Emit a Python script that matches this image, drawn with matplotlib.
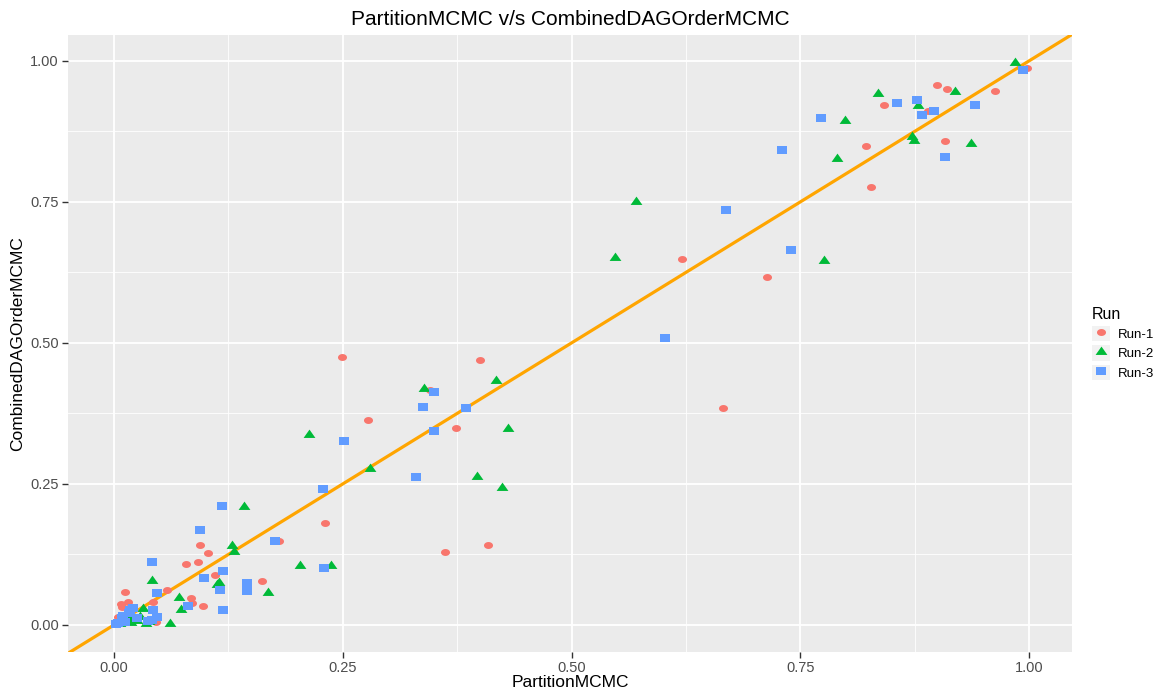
import numpy as np
import matplotlib
matplotlib.use("Agg")
import matplotlib.pyplot as plt
from matplotlib.path import Path
from matplotlib.patches import Patch
from matplotlib.lines import Line2D
from matplotlib.markers import MarkerStyle
from matplotlib.ticker import MultipleLocator

plt.rcParams['font.family'] = ['Liberation Sans', 'DejaVu Sans']

# Run-1 values
run1_x = [0.004, 0.008, 0.009, 0.012, 0.015, 0.020, 0.043, 0.046, 0.058, 0.079,
          0.084, 0.085, 0.092, 0.094, 0.097, 0.103, 0.110, 0.162, 0.180, 0.231,
          0.249, 0.278, 0.345, 0.374, 0.362, 0.400, 0.409, 0.621, 0.666, 0.714,
          0.822, 0.827, 0.841, 0.890, 0.900, 0.908, 0.910, 0.963, 0.998]
run1_y = [0.014, 0.037, 0.032, 0.059, 0.041, 0.030, 0.041, 0.005, 0.062, 0.108,
          0.048, 0.039, 0.112, 0.142, 0.034, 0.128, 0.089, 0.078, 0.149, 0.181,
          0.475, 0.363, 0.417, 0.349, 0.129, 0.470, 0.142, 0.649, 0.385, 0.617,
          0.849, 0.777, 0.922, 0.911, 0.957, 0.858, 0.950, 0.947, 0.988]

# Run-2
run2_x = [0.985, 0.835, 0.919, 0.879, 0.799, 0.872, 0.874, 0.937, 0.790, 0.571,
          0.548, 0.776, 0.339, 0.418, 0.431, 0.213, 0.280, 0.397, 0.424, 0.142,
          0.129, 0.131, 0.203, 0.237, 0.042, 0.112, 0.115, 0.168, 0.071, 0.073,
          0.061, 0.035, 0.038, 0.032, 0.017, 0.019, 0.025, 0.028, 0.007, 0.014]
run2_y = [0.998, 0.943, 0.947, 0.922, 0.895, 0.867, 0.860, 0.855, 0.828, 0.752,
          0.652, 0.647, 0.420, 0.434, 0.349, 0.339, 0.278, 0.264, 0.245, 0.211,
          0.142, 0.131, 0.106, 0.106, 0.080, 0.073, 0.076, 0.059, 0.050, 0.028,
          0.004, 0.004, 0.007, 0.030, 0.012, 0.005, 0.009, 0.016, 0.004, 0.011]

# Run-3
run3_x = [0.993, 0.856, 0.878, 0.896, 0.883, 0.941, 0.908, 0.730, 0.773, 0.669,
          0.740, 0.602, 0.350, 0.338, 0.385, 0.350, 0.251, 0.330, 0.228, 0.118,
          0.094, 0.042, 0.119, 0.098, 0.145, 0.145, 0.116, 0.047, 0.176, 0.230,
          0.119, 0.081, 0.043, 0.017, 0.025, 0.047, 0.037, 0.042, 0.010, 0.009,
          0.002, 0.004, 0.012, 0.016, 0.021]
run3_y = [0.984, 0.926, 0.931, 0.911, 0.904, 0.922, 0.830, 0.842, 0.899, 0.736,
          0.665, 0.509, 0.413, 0.387, 0.385, 0.344, 0.326, 0.262, 0.241, 0.211,
          0.168, 0.112, 0.096, 0.083, 0.074, 0.060, 0.062, 0.057, 0.149, 0.101,
          0.027, 0.034, 0.027, 0.027, 0.012, 0.014, 0.007, 0.009, 0.016, 0.012,
          0.002, 0.004, 0.005, 0.021, 0.030]

runs = ["Run-1", "Run-2", "Run-3"]
colors = ["#F8766D", "#00BA38", "#619CFF"]

# the reference is stretched sideways, so the markers are a bit wider than tall
t = np.linspace(0, 2 * np.pi, 40)
ellipse = Path(np.column_stack([np.cos(t) * 1.3, np.sin(t)]), closed=True)
tri = Path([(-1.2, -0.7), (1.2, -0.7), (0, 1.0), (-1.2, -0.7)], closed=True)
sq = Path([(-1.25, -1), (1.25, -1), (1.25, 1), (-1.25, 1), (-1.25, -1)], closed=True)
markers = [ellipse, tri, sq]
sizes = [6.5, 8.5, 6.5]

fig = plt.figure(figsize=(11.69, 6.90), dpi=100)
ax = fig.add_axes([68 / 1169, 1 - 652 / 690, (1072 - 68) / 1169, (652 - 35) / 690])
ax.set_facecolor("#EBEBEB")

ax.set_xlim(-0.0503, 1.047)
ax.set_ylim(-0.048, 1.046)
ax.xaxis.set_major_locator(MultipleLocator(0.25))
ax.yaxis.set_major_locator(MultipleLocator(0.25))
ax.xaxis.set_minor_locator(MultipleLocator(0.125))
ax.yaxis.set_minor_locator(MultipleLocator(0.125))
ax.xaxis.set_major_formatter(matplotlib.ticker.FormatStrFormatter('%.2f'))
ax.yaxis.set_major_formatter(matplotlib.ticker.FormatStrFormatter('%.2f'))
ax.grid(which="major", color="white", linewidth=1.3)
ax.grid(which="minor", color="white", linewidth=0.6)
ax.set_axisbelow(True)
for s in ax.spines.values():
    s.set_visible(False)
ax.tick_params(which="major", length=4, width=1, color="#333333",
               labelcolor="#4D4D4D", labelsize=10.5, pad=2.5)
ax.tick_params(which="minor", length=0)

xs, ys = [run1_x, run2_x, run3_x], [run1_y, run2_y, run3_y]
for i in range(3):
    ax.plot(xs[i], ys[i], linestyle="none", marker=MarkerStyle(markers[i]),
            markersize=sizes[i], color=colors[i], markeredgewidth=0)

ax.axline((0, 0), slope=1, color="orange", linewidth=2.3, zorder=1.5)

ax.set_title("PartitionMCMC v/s CombinedDAGOrderMCMC", fontsize=15, pad=7)
ax.set_xlabel("PartitionMCMC", fontsize=12.5, labelpad=0)
ax.set_ylabel("CombinedDAGOrderMCMC", fontsize=12.5, labelpad=4)

handles = []
for i in range(3):
    key = Patch(facecolor="#F2F2F2", edgecolor="none")
    mk = Line2D([], [], linestyle="none", marker=MarkerStyle(markers[i]),
                markersize=sizes[i], color=colors[i], markeredgewidth=0)
    handles.append((key, mk))
leg = ax.legend(handles, runs, title="Run", loc="center left",
                bbox_to_anchor=(1.008, 0.5), frameon=False, fontsize=9.5,
                title_fontsize=11.5, handlelength=1.4, handleheight=1.4,
                handletextpad=0.6, labelspacing=0.3, alignment="left")

fig.savefig("out.png", dpi=100)
